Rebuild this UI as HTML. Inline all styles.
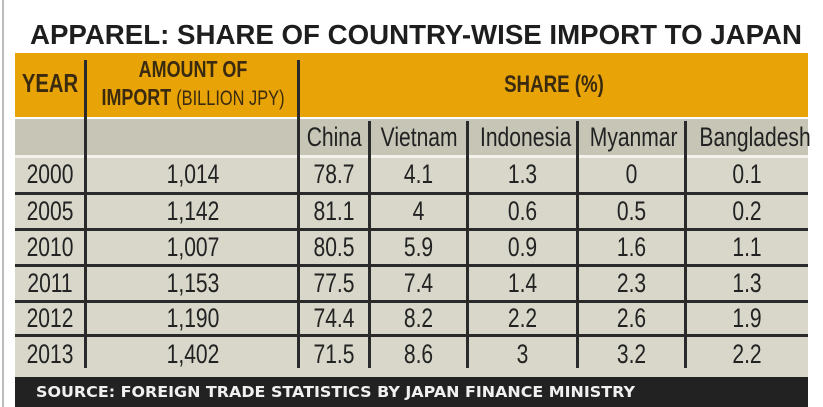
<!DOCTYPE html>
<html><head><meta charset="utf-8"><style>
*{margin:0;padding:0;box-sizing:border-box}
body{width:823px;height:407px;background:#fff;position:relative;overflow:hidden;font-family:"Liberation Sans",sans-serif;color:#222}
.a{position:absolute}
.t{position:absolute;text-align:center;white-space:nowrap;transform:scaleX(0.78);transform-origin:center}
.vl{position:absolute;width:3px;background:#2a2a2a}
.hl{position:absolute;left:15px;width:793px;height:3px;background:#2a2a2a}
.cell{font-size:27px;line-height:34px}
</style></head><body>
<div class="a" style="left:2px;top:0;width:2px;height:407px;background:#bbb"></div>
<svg class="a" style="left:0;top:0" width="823" height="60"><text x="30" y="44" textLength="772" lengthAdjust="spacingAndGlyphs" font-family="Liberation Sans" font-weight="bold" font-size="28" fill="#1e1e1e">APPAREL: SHARE OF COUNTRY-WISE IMPORT TO JAPAN</text></svg>
<div class="a" style="left:15px;top:53px;width:793px;height:64px;background:#e8a306"></div>
<div class="a" style="left:15px;top:119px;width:793px;height:258px;background:#d8d7ca"></div>
<div class="a" style="left:15px;top:119px;width:793px;height:36px;background:#c6c5b6"></div>
<div class="a" style="left:15px;top:155px;width:793px;height:3px;background:#f2f2ea"></div>
<div class="t" style="left:10px;width:80px;top:68px;font-size:26px;font-weight:bold;color:#3a2a10">YEAR</div>
<div class="t" style="left:68px;width:250px;top:55px;font-size:23px;font-weight:bold;color:#3a2a10;line-height:28px">AMOUNT OF<br>IMPORT <span style="font-weight:normal;font-size:21px">(BILLION JPY)</span></div>
<div class="t" style="left:300px;width:508px;top:71px;font-size:24px;font-weight:bold;color:#3a2a10">SHARE (%)</div>
<div class="vl" style="left:84px;top:60px;height:308px"></div>
<div class="vl" style="left:297px;top:60px;height:308px"></div>
<div class="vl" style="left:368px;top:121px;height:247px"></div>
<div class="vl" style="left:466px;top:121px;height:247px"></div>
<div class="vl" style="left:576px;top:121px;height:247px"></div>
<div class="vl" style="left:684px;top:121px;height:247px"></div>
<div class="t cell" style="left:299px;width:70px;top:120px">China</div>
<div class="t cell" style="left:370px;width:97px;top:120px">Vietnam</div>
<div class="t cell" style="left:468px;width:109px;top:120px">Indonesia</div>
<div class="t cell" style="left:578px;width:107px;top:120px">Myanmar</div>
<div class="t cell" style="left:686px;width:122px;top:120px">Bangladesh</div>
<div class="hl" style="top:192px"></div>
<div class="hl" style="top:228px"></div>
<div class="hl" style="top:264px"></div>
<div class="hl" style="top:300px"></div>
<div class="hl" style="top:334px"></div>
<div class="a" style="left:15px;top:377px;width:793px;height:30px;background:#222"></div>
<svg class="a" style="left:0;top:377px" width="823" height="30"><text x="36" y="20" textLength="599" lengthAdjust="spacingAndGlyphs" font-family="DejaVu Sans" font-weight="bold" font-size="15" fill="#f0f0f0">SOURCE: FOREIGN TRADE STATISTICS BY JAPAN FINANCE MINISTRY</text></svg>
<div class="t cell" style="left:15px;width:70px;top:157px">2000</div>
<div class="t cell" style="left:88px;width:210px;top:157px">1,014</div>
<div class="t cell" style="left:299px;width:70px;top:157px">78.7</div>
<div class="t cell" style="left:370px;width:97px;top:157px">4.1</div>
<div class="t cell" style="left:468px;width:109px;top:157px">1.3</div>
<div class="t cell" style="left:578px;width:107px;top:157px">0</div>
<div class="t cell" style="left:686px;width:122px;top:157px">0.1</div>
<div class="t cell" style="left:15px;width:70px;top:194px">2005</div>
<div class="t cell" style="left:88px;width:210px;top:194px">1,142</div>
<div class="t cell" style="left:299px;width:70px;top:194px">81.1</div>
<div class="t cell" style="left:370px;width:97px;top:194px">4</div>
<div class="t cell" style="left:468px;width:109px;top:194px">0.6</div>
<div class="t cell" style="left:578px;width:107px;top:194px">0.5</div>
<div class="t cell" style="left:686px;width:122px;top:194px">0.2</div>
<div class="t cell" style="left:15px;width:70px;top:230px">2010</div>
<div class="t cell" style="left:88px;width:210px;top:230px">1,007</div>
<div class="t cell" style="left:299px;width:70px;top:230px">80.5</div>
<div class="t cell" style="left:370px;width:97px;top:230px">5.9</div>
<div class="t cell" style="left:468px;width:109px;top:230px">0.9</div>
<div class="t cell" style="left:578px;width:107px;top:230px">1.6</div>
<div class="t cell" style="left:686px;width:122px;top:230px">1.1</div>
<div class="t cell" style="left:15px;width:70px;top:266px">2011</div>
<div class="t cell" style="left:88px;width:210px;top:266px">1,153</div>
<div class="t cell" style="left:299px;width:70px;top:266px">77.5</div>
<div class="t cell" style="left:370px;width:97px;top:266px">7.4</div>
<div class="t cell" style="left:468px;width:109px;top:266px">1.4</div>
<div class="t cell" style="left:578px;width:107px;top:266px">2.3</div>
<div class="t cell" style="left:686px;width:122px;top:266px">1.3</div>
<div class="t cell" style="left:15px;width:70px;top:301px">2012</div>
<div class="t cell" style="left:88px;width:210px;top:301px">1,190</div>
<div class="t cell" style="left:299px;width:70px;top:301px">74.4</div>
<div class="t cell" style="left:370px;width:97px;top:301px">8.2</div>
<div class="t cell" style="left:468px;width:109px;top:301px">2.2</div>
<div class="t cell" style="left:578px;width:107px;top:301px">2.6</div>
<div class="t cell" style="left:686px;width:122px;top:301px">1.9</div>
<div class="t cell" style="left:15px;width:70px;top:337px">2013</div>
<div class="t cell" style="left:88px;width:210px;top:337px">1,402</div>
<div class="t cell" style="left:299px;width:70px;top:337px">71.5</div>
<div class="t cell" style="left:370px;width:97px;top:337px">8.6</div>
<div class="t cell" style="left:468px;width:109px;top:337px">3</div>
<div class="t cell" style="left:578px;width:107px;top:337px">3.2</div>
<div class="t cell" style="left:686px;width:122px;top:337px">2.2</div>
</body></html>
